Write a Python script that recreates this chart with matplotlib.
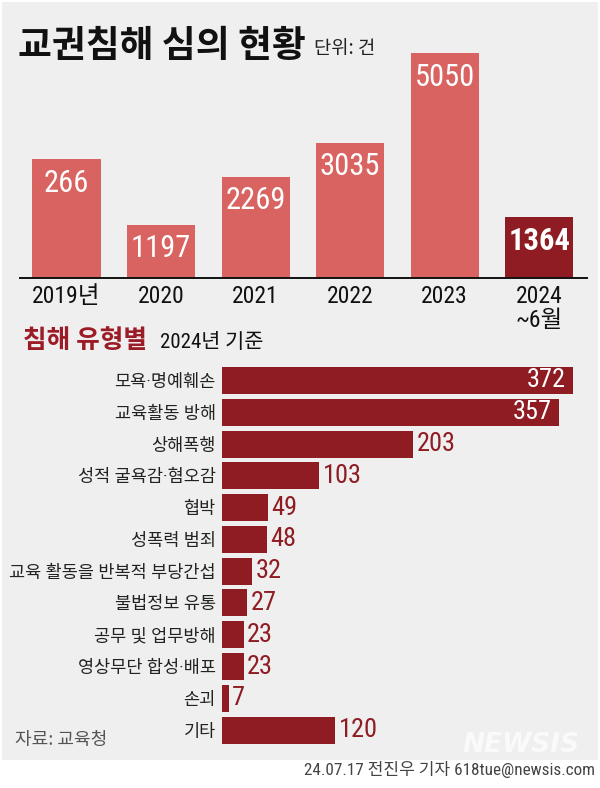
import matplotlib
matplotlib.use("Agg")
import matplotlib.pyplot as plt
from matplotlib import font_manager
from matplotlib.patches import Rectangle

# yearly totals (2019 bar is drawn at 2662, the graphic labels it "266")
years = ["2019년", "2020", "2021", "2022", "2023", "2024\n~6월"]
case_values = [2662, 1197, 2269, 3035, 5050, 1364]
case_labels = ["266", "1197", "2269", "3035", "5050", "1364"]

# 2024 breakdown by type
types = ["모욕·명예훼손", "교육활동 방해", "상해폭행", "성적 굴욕감·혐오감", "협박",
         "성폭력 범죄", "교육 활동을 반복적 부당간섭", "불법정보 유통",
         "공무 및 업무방해", "영상무단 합성·배포", "손괴", "기타"]
type_counts = [372, 357, 203, 103, 49, 48, 32, 27, 23, 23, 7, 120]

W, H = 600, 788
BG = "#efefef"
LIGHT_RED = "#d96361"
DARK_RED = "#8f1b23"
KR = "Noto Sans CJK KR"


def pick_narrow():
  # a condensed latin face for the numbers, if one is installed
  for name in ["Liberation Sans Narrow", "Roboto Condensed", "Open Sans Condensed", "Arial Narrow"]:
    try:
      font_manager.findfont(name, fallback_to_default=False)
      return name, True
    except ValueError:
      pass
  return "Roboto", False


narrow_name, is_narrow = pick_narrow()
NARROW = [narrow_name, KR]
k = 1.0 if is_narrow else 0.85

plt.rcParams["font.family"] = [KR, "DejaVu Sans"]

fig = plt.figure(figsize=(W / 100, H / 100), dpi=100)
fig.patch.set_facecolor("white")
fig.add_artist(Rectangle((2 / W, 1 - 760 / H), 596 / W, 758 / H,
                         transform=fig.transFigure, facecolor=BG, edgecolor="none", zorder=0))

def fy(py):
  return 1 - py / H

# title
fig.text(18 / W, fy(57), "교권침해 심의 현황", fontsize=26.5, fontweight="bold",
         color="#111111", va="baseline")
fig.text(314 / W, fy(54), "단위: 건", fontsize=13.5, color="#222222", va="baseline")

# ---- top: yearly bars ----
px_per_case = 225 / 5050
ax_top = fig.add_axes([20 / W, fy(278), 567 / W, 238 / H])
ax_top.set_facecolor("none")
ax_top.set_xlim(-0.492, 5.507)
ax_top.set_ylim(0, 238 / px_per_case)
colors = [LIGHT_RED] * 5 + [DARK_RED]
ax_top.bar(range(len(years)), case_values, width=0.72, color=colors, zorder=2)
for i, (v, lab) in enumerate(zip(case_values, case_labels)):
  ax_top.annotate(lab, (i, v), xytext=(0, -24 * 0.72), textcoords="offset points",
                  ha="center", va="center", color="white", family=NARROW,
                  fontsize=22 * k, fontweight="bold" if i == 5 else "normal")
for s in ["top", "left", "right"]:
  ax_top.spines[s].set_visible(False)
ax_top.spines["bottom"].set_linewidth(1.4)
ax_top.spines["bottom"].set_color("#111111")
ax_top.set_yticks([])
ax_top.set_xticks(range(len(years)), years, family=NARROW, fontsize=17 * k,
                  color="#111111", linespacing=1.05)
ax_top.tick_params(axis="x", length=0, pad=5)

# ---- bottom: types ----
fig.text(23 / W, fy(340), "침해 유형별", fontsize=18.5, fontweight="bold",
         color="#9b1c26", va="center")
fig.text(160 / W, fy(343), "2024년 기준", fontsize=15, family=NARROW,
         color="#111111", va="center")

px_per_count = 0.943
ax_bot = fig.add_axes([222 / W, fy(746), 378 / W, (746 - 364.6) / H])
ax_bot.set_facecolor("none")
ax_bot.set_xlim(0, 378 / px_per_count)
ax_bot.set_ylim(len(types) - 0.5, -0.5)
ax_bot.barh(range(len(types)), type_counts, height=0.85, color=DARK_RED, zorder=2)
for i, v in enumerate(type_counts):
  if v > 300:
    ax_bot.annotate(str(v), (v, i), xytext=(-5, 0), textcoords="offset points",
                    ha="right", va="center", color="white", family=NARROW, fontsize=19 * k)
  else:
    ax_bot.annotate(str(v), (v, i), xytext=(2.5, 0), textcoords="offset points",
                    ha="left", va="center", color=DARK_RED, family=NARROW, fontsize=19 * k)
for s in ax_bot.spines.values():
  s.set_visible(False)
ax_bot.set_xticks([])
# latin face first so the middle dot stays narrow, hangul falls back to Noto
ax_bot.set_yticks(range(len(types)), types, fontsize=12.6, color="#222222",
                  family=["Roboto", KR])
ax_bot.tick_params(axis="y", length=0, pad=4.5)

# footer
fig.text(15 / W, fy(740), "자료: 교육청", fontsize=13, color="#555555", va="center")
fig.text(580 / W, fy(745), "NEWSIS", fontsize=19, fontweight="bold", style="italic",
         family="DejaVu Sans", color="white", alpha=0.7, ha="right", va="center")
credit = fig.text(595 / W, fy(769), "24.07.17 전진우 기자 618tue@newsis.com",
                  fontsize=12, family=NARROW, color="#444444", ha="right", va="center")
# shrink the credit line to the width it has in the graphic (~290 px)
renderer = fig.canvas.get_renderer()
cw = credit.get_window_extent(renderer).width
credit.set_fontsize(12 * 290 / cw)

fig.savefig("out.png", dpi=100, facecolor=fig.get_facecolor())
